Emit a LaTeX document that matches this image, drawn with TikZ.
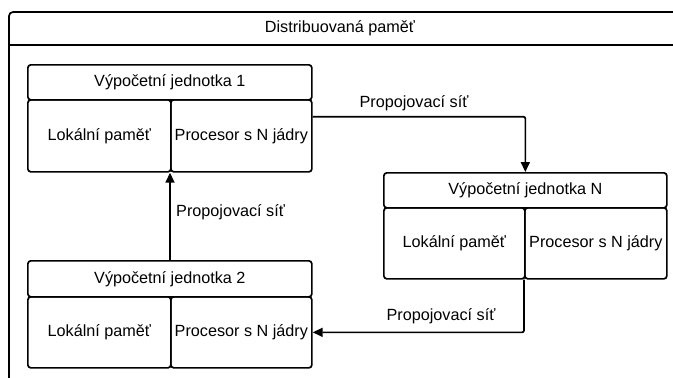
\documentclass[tikz,border=0pt]{standalone}
\usepackage{fontspec}
\setmainfont{Liberation Sans}
\usetikzlibrary{arrows.meta,calc}
\begin{document}
\begin{tikzpicture}[x=1pt,y=-1pt,
  every node/.style={font=\fontsize{16.2}{19}\selectfont, text=black},
  box/.style={draw=black, line width=1.7pt, rounded corners=3pt, inner sep=0pt, anchor=north west},
  link/.style={draw=black, line width=1.7pt, rounded corners=2pt, -{Triangle[length=10pt,width=9pt]}},
  lbl/.style={inner sep=1pt}]
\useasboundingbox[fill=white] (0,0) rectangle (673,378);

% container
\draw[line width=1.7pt, rounded corners=4pt] (9,390) -- (9,12) -- (690,12);
\draw[line width=1.7pt] (9,45) -- (690,45);
\node (mem) at (340,28.5) {Distribuovaná paměť};

% unit 1
\node[box, minimum width=284pt, minimum height=35pt] (u1t) at (27,64) {Výpočetní jednotka 1};
\node[box, minimum width=143pt, minimum height=72pt] (u1l) at (27,99) {Lokální paměť};
\node[box, minimum width=141pt, minimum height=72pt] (u1r) at (170,99) {Procesor s N jádry};

% unit N
\node[box, minimum width=283pt, minimum height=35pt] (uNt) at (383,172) {Výpočetní jednotka N};
\node[box, minimum width=141pt, minimum height=71pt] (uNl) at (383,207) {Lokální paměť};
\node[box, minimum width=142pt, minimum height=71pt] (uNr) at (524,207) {Procesor s N jádry};

% unit 2
\node[box, minimum width=284pt, minimum height=36pt] (u2t) at (27,260) {Výpočetní jednotka 2};
\node[box, minimum width=143pt, minimum height=71pt] (u2l) at (27,296) {Lokální paměť};
\node[box, minimum width=141pt, minimum height=71pt] (u2r) at (170,296) {Procesor s N jádry};

% interconnect
\coordinate (o1) at ($(u1r.north east)!0.24!(u1r.south east)$);
\draw[link] (o1) -| (uNt.north);
\node[lbl] (l1) at (414,103) {Propojovací síť};

\draw[link] (u2t.north -| u1r.south west) -- (u1r.south west);
\node[lbl, anchor=west] (l2) at (175,212) {Propojovací síť};

\draw[link] (uNr.south west) |- (u2r.east);
\node[lbl] (l3) at (441,316) {Propojovací síť};
\end{tikzpicture}
\end{document}
